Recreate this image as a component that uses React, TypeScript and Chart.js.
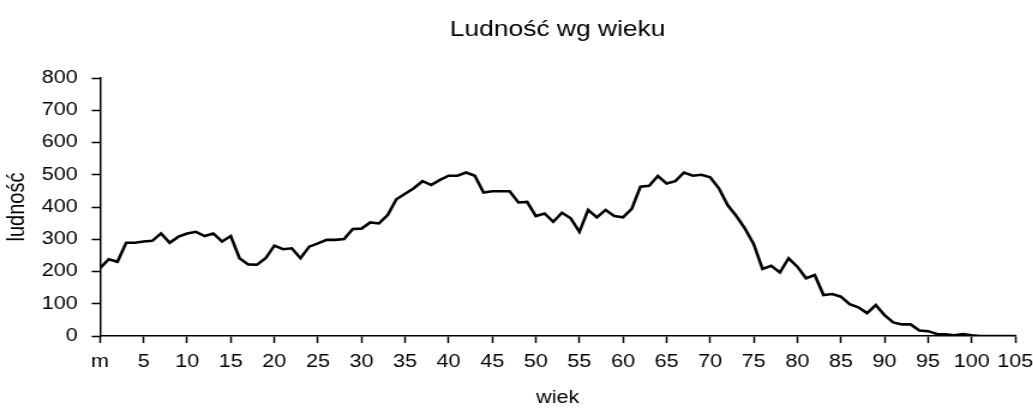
import React, { useEffect, useRef } from 'react';
import { Chart, registerables } from 'chart.js';

Chart.register(...registerables);

// Age categories (years) and population at each age
const ages = [
  0, 1, 2, 3, 4, 5, 6, 7, 8, 9,
  10, 11, 12, 13, 14, 15, 16, 17, 18, 19,
  20, 21, 22, 23, 24, 25, 26, 27, 28, 29,
  30, 31, 32, 33, 34, 35, 36, 37, 38, 39,
  40, 41, 42, 43, 44, 45, 46, 47, 48, 49,
  50, 51, 52, 53, 54, 55, 56, 57, 58, 59,
  60, 61, 62, 63, 64, 65, 66, 67, 68, 69,
  70, 71, 72, 73, 74, 75, 76, 77, 78, 79,
  80, 81, 82, 83, 84, 85, 86, 87, 88, 89,
  90, 91, 92, 93, 94, 95, 96, 97, 98, 99,
  100, 101, 102, 103, 104, 105,
];

const population = [
  210, 238, 230, 289, 289, 293, 295, 318, 289, 308,
  318, 323, 310, 318, 293, 310, 241, 222, 221, 241,
  280, 269, 272, 241, 277, 287, 298, 298, 301, 332,
  333, 352, 349, 375, 424, 441, 458, 480, 468, 484,
  497, 497, 507, 497, 445, 449, 449, 449, 414, 416,
  372, 380, 354, 382, 365, 323, 391, 368, 391, 372,
  368, 394, 463, 466, 496, 473, 480, 507, 497, 500,
  492, 458, 406, 372, 333, 285, 208, 218, 197, 241,
  215, 179, 189, 127, 130, 122, 99, 89, 71, 96,
  65, 42, 36, 36, 17, 15, 6, 5, 2, 6,
  2, 0, 0, 0, 0, 0,
];

const xTickLabels = [
  'm', '5', '10', '15', '20', '25', '30', '35', '40', '45', '50',
  '55', '60', '65', '70', '75', '80', '85', '90', '95', '100', '105',
];

const chartTitle = 'Ludność wg wieku';
const xTitle = 'wiek';
const yTitle = 'ludność';

const STRETCH = 1.2;
const W = Math.round(1033 / STRETCH);
const H = 412;
const FONT = "'Liberation Sans', Arial, sans-serif";

export default function App() {
  const ref = useRef<HTMLCanvasElement>(null);

  useEffect(() => {
    if (!ref.current) return;
    const chart = new Chart(ref.current, {
      type: 'line',
      data: {
        labels: ages,
        datasets: [
          {
            data: population,
            borderColor: '#000000',
            borderWidth: 2.6,
            pointRadius: 0,
            tension: 0,
            fill: false,
          },
        ],
      },
      options: {
        animation: false,
        responsive: false,
        layout: { padding: { left: 0, right: 15, top: 0, bottom: 0 } },
        plugins: {
          legend: { display: false },
          tooltip: { enabled: false },
          title: {
            display: true,
            text: chartTitle,
            fullSize: false,
            color: '#000000',
            font: { family: FONT, size: 22, weight: 'normal' },
            padding: { top: 17, bottom: 34.6 },
          },
        },
        scales: {
          x: {
            type: 'linear',
            min: 0,
            max: 105,
            afterFit: (s: any) => {
              s.height = 76;
              s.paddingRight = 0;
              s.paddingLeft = 0;
            },
            border: { display: true, color: '#000000', width: 1.5 },
            grid: {
              drawOnChartArea: false,
              drawTicks: true,
              tickLength: 7,
              tickWidth: 1.5,
              tickColor: '#000000',
            },
            ticks: {
              stepSize: 5,
              autoSkip: false,
              maxRotation: 0,
              padding: 8,
              color: '#000000',
              font: { family: FONT, size: 18 },
              callback: (v: any) => xTickLabels[Math.round(Number(v) / 5)],
            },
            title: {
              display: true,
              text: xTitle,
              color: '#000000',
              font: { family: FONT, size: 18 },
              padding: { top: 0, bottom: 3 },
            },
          },
          y: {
            min: 0,
            max: 800,
            afterFit: (s: any) => {
              s.width = 100 / STRETCH;
            },
            border: { display: true, color: '#000000', width: 1.5 },
            grid: {
              drawOnChartArea: false,
              drawTicks: true,
              tickLength: 7,
              tickWidth: 1.5,
              tickColor: '#000000',
            },
            ticks: {
              stepSize: 100,
              padding: 11.5,
              color: '#000000',
              font: { family: FONT, size: 18 },
            },
            title: {
              display: true,
              text: yTitle,
              color: '#000000',
              font: { family: FONT, size: 20 },
              padding: { top: 2, bottom: 0 },
            },
          },
        },
      },
    });
    return () => chart.destroy();
  }, []);

  return (
    <div
      style={{
        position: 'absolute',
        left: 0,
        top: 0,
        width: W,
        height: H,
        transform: `scaleX(${STRETCH})`,
        transformOrigin: '0 0',
      }}
    >
      <canvas ref={ref} width={W} height={H} style={{ display: 'block' }} />
    </div>
  );
}
